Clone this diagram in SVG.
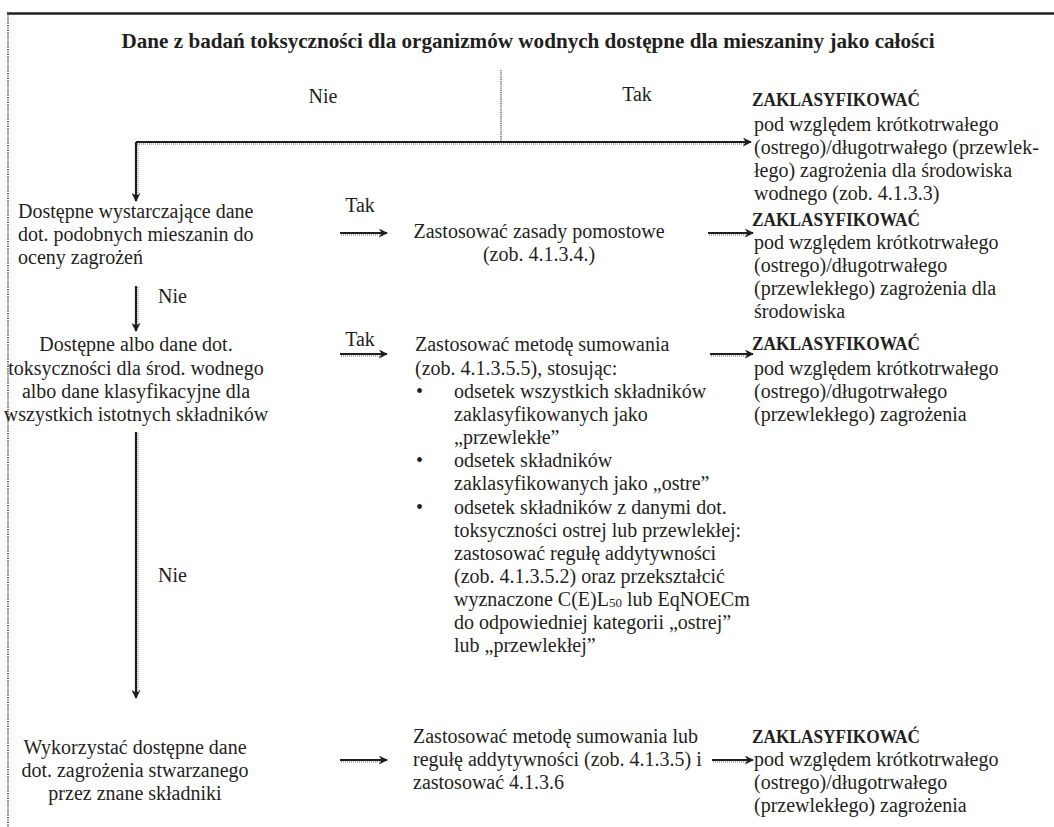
<svg xmlns="http://www.w3.org/2000/svg" width="1054" height="827" viewBox="0 0 1054 827">
  <style>
    text { font-family: "Liberation Serif", "DejaVu Serif", serif; font-size: 20px; fill: #231f20; }
    .title { font-weight: bold; font-size: 21px; }
    .head { font-weight: bold; font-size: 19.5px; }
    .mid { text-anchor: middle; }
    .wire { fill: none; stroke: #1e1e1e; stroke-width: 2.2; }
    .shade { fill: none; stroke: #9a9a9a; stroke-width: 1.4; stroke-dasharray: 1 1; }
    .frame { fill: none; stroke: #231f20; stroke-width: 2.5; }
    .frame-side { fill: none; stroke: #444; stroke-width: 1.6; stroke-dasharray: 1.2 1.2; }
  </style>
  <defs>
    <marker id="arrow" viewBox="0 0 10 10" refX="9" refY="5" markerWidth="9" markerHeight="9" markerUnits="userSpaceOnUse" orient="auto">
      <path d="M0,0 L10,5 L0,10 L3,5 z" fill="#1e1e1e"/>
    </marker>
  </defs>

  <!-- page frame -->
  <g id="frame">
    <line class="frame" x1="7" y1="13.5" x2="1054" y2="13.5"/>
    <line class="frame-side" x1="8" y1="13" x2="8" y2="827"/>
  </g>

  <!-- connectors -->
  <g id="connectors">
    <line x1="501" y1="70" x2="501" y2="142" stroke="#8a8a8a" stroke-width="2" stroke-dasharray="1.2 1"/>
    <path class="wire" d="M136,142 H751" marker-end="url(#arrow)"/>
    <path class="shade" d="M137,144 H745"/>
    <path class="wire" d="M136,142 V201" marker-end="url(#arrow)"/>
    <path class="shade" d="M138,144 V195"/>
    <text x="323" y="103" class="mid">Nie</text>
    <text x="637" y="101" class="mid">Tak</text>

    <path class="wire" d="M340,233 H387" marker-end="url(#arrow)"/>
    <path class="shade" d="M341,235 H381"/>
    <text x="360" y="212" class="mid">Tak</text>
    <path class="wire" d="M708,233 H753" marker-end="url(#arrow)"/>
    <path class="shade" d="M709,235 H747"/>

    <path class="wire" d="M136,286 V331" marker-end="url(#arrow)"/>
    <path class="shade" d="M138,287 V325"/>
    <text x="158" y="303">Nie</text>

    <path class="wire" d="M340,354 H387" marker-end="url(#arrow)"/>
    <path class="shade" d="M341,356 H381"/>
    <text x="360" y="346" class="mid">Tak</text>
    <path class="wire" d="M710,354 H753" marker-end="url(#arrow)"/>
    <path class="shade" d="M711,356 H747"/>

    <path class="wire" d="M136,432 V698" marker-end="url(#arrow)"/>
    <path class="shade" d="M138,433 V692"/>
    <text x="158" y="582">Nie</text>

    <path class="wire" d="M340,760 H387" marker-end="url(#arrow)"/>
    <path class="shade" d="M341,762 H381"/>
    <path class="wire" d="M712,760 H753" marker-end="url(#arrow)"/>
    <path class="shade" d="M713,762 H747"/>
  </g>

  <!-- start question -->
  <g id="q-start">
    <text x="528" y="48" class="title mid" textLength="813" lengthAdjust="spacingAndGlyphs">Dane z badań toksyczności dla organizmów wodnych dostępne dla mieszaniny jako całości</text>
  </g>

  <!-- classification, whole mixture -->
  <g id="classify-1">
    <text x="752" y="106" class="head" textLength="168" lengthAdjust="spacingAndGlyphs">ZAKLASYFIKOWAĆ</text>
    <text x="754" y="131">pod względem krótkotrwałego</text>
    <text x="754" y="154">(ostrego)/długotrwałego (przewlek-</text>
    <text x="754" y="177">łego) zagrożenia dla środowiska</text>
    <text x="754" y="200">wodnego (zob. 4.1.3.3)</text>
  </g>

  <!-- similar mixtures question -->
  <g id="q-similar">
    <text x="18" y="218">Dostępne wystarczające dane</text>
    <text x="18" y="241">dot. podobnych mieszanin do</text>
    <text x="18" y="264">oceny zagrożeń</text>
  </g>

  <g id="bridging">
    <text x="539" y="238" class="mid">Zastosować zasady pomostowe</text>
    <text x="539" y="261" class="mid">(zob. 4.1.3.4.)</text>
  </g>

  <g id="classify-2">
    <text x="752" y="226" class="head" textLength="168" lengthAdjust="spacingAndGlyphs">ZAKLASYFIKOWAĆ</text>
    <text x="754" y="249">pod względem krótkotrwałego</text>
    <text x="754" y="272">(ostrego)/długotrwałego</text>
    <text x="754" y="295">(przewlekłego) zagrożenia dla</text>
    <text x="754" y="318">środowiska</text>
  </g>

  <!-- component data question -->
  <g id="q-components">
    <text x="136" y="351" class="mid">Dostępne albo dane dot.</text>
    <text x="136" y="375" class="mid">toksyczności dla środ. wodnego</text>
    <text x="136" y="398" class="mid">albo dane klasyfikacyjne dla</text>
    <text x="136" y="421" class="mid">wszystkich istotnych składników</text>
  </g>

  <g id="summation">
    <text x="415" y="351">Zastosować metodę sumowania</text>
    <text x="415" y="375">(zob. 4.1.3.5.5), stosując:</text>
    <text x="416" y="398">•</text>
    <text x="454" y="398">odsetek wszystkich składników</text>
    <text x="454" y="421">zaklasyfikowanych jako</text>
    <text x="454" y="444">„przewlekłe”</text>
    <text x="416" y="467">•</text>
    <text x="454" y="467">odsetek składników</text>
    <text x="454" y="490">zaklasyfikowanych jako „ostre”</text>
    <text x="416" y="514">•</text>
    <text x="454" y="514">odsetek składników z danymi dot.</text>
    <text x="454" y="537">toksyczności ostrej lub przewlekłej:</text>
    <text x="454" y="560">zastosować regułę addytywności</text>
    <text x="454" y="583">(zob. 4.1.3.5.2) oraz przekształcić</text>
    <text x="454" y="606">wyznaczone C(E)L<tspan font-size="13" dy="1">50</tspan><tspan dy="-1"> lub EqNOECm</tspan></text>
    <text x="454" y="629">do odpowiedniej kategorii „ostrej”</text>
    <text x="454" y="652">lub „przewlekłej”</text>
  </g>

  <g id="classify-3">
    <text x="752" y="350" class="head" textLength="168" lengthAdjust="spacingAndGlyphs">ZAKLASYFIKOWAĆ</text>
    <text x="754" y="375">pod względem krótkotrwałego</text>
    <text x="754" y="398">(ostrego)/długotrwałego</text>
    <text x="754" y="421">(przewlekłego) zagrożenia</text>
  </g>

  <!-- known components -->
  <g id="known-components">
    <text x="135" y="754" class="mid">Wykorzystać dostępne dane</text>
    <text x="135" y="777" class="mid">dot. zagrożenia stwarzanego</text>
    <text x="135" y="800" class="mid">przez znane składniki</text>
  </g>

  <g id="summation-additivity">
    <text x="413" y="743">Zastosować metodę sumowania lub</text>
    <text x="413" y="766">regułę addytywności (zob. 4.1.3.5) i</text>
    <text x="413" y="789">zastosować 4.1.3.6</text>
  </g>

  <g id="classify-4">
    <text x="752" y="743" class="head" textLength="168" lengthAdjust="spacingAndGlyphs">ZAKLASYFIKOWAĆ</text>
    <text x="754" y="766">pod względem krótkotrwałego</text>
    <text x="754" y="789">(ostrego)/długotrwałego</text>
    <text x="754" y="812">(przewlekłego) zagrożenia</text>
  </g>
</svg>
